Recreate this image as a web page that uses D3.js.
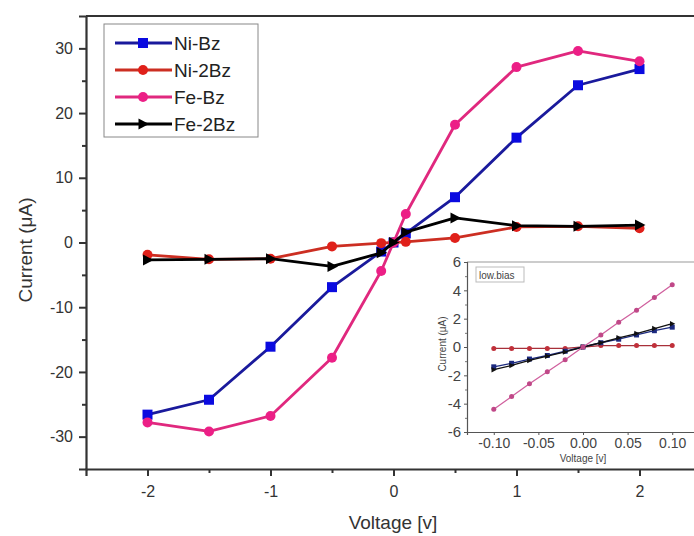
<!DOCTYPE html>
<html><head><meta charset="utf-8">
<script src="https://cdn.jsdelivr.net/npm/d3@7"></script>
<style>
html,body{margin:0;padding:0;background:#fff;}
svg{display:block;font-family:"Liberation Sans",Arial,sans-serif;}
</style></head>
<body><svg id="c" width="694" height="536"></svg>
<script>
// ---- main chart data ----
const voltage = [-2, -1.5, -1, -0.5, -0.1, 0, 0.1, 0.5, 1, 1.5, 2];
const niBz  = [-26.6, -24.3, -16.1, -6.9, -1.4, 0, 1.4, 7.0, 16.2, 24.3, 26.8];
const ni2Bz = [-1.9, -2.6, -2.5, -0.6, -0.1, 0, 0.1, 0.7, 2.4, 2.5, 2.2];
const feBz  = [-27.8, -29.2, -26.8, -17.8, -4.4, 0, 4.4, 18.2, 27.1, 29.6, 28.0];
const fe2Bz = [-2.7, -2.6, -2.5, -3.7, -1.6, 0, 1.6, 3.8, 2.6, 2.5, 2.7];
const seriesNames = ["Ni-Bz", "Ni-2Bz", "Fe-Bz", "Fe-2Bz"];
const xTicks = [-2, -1, 0, 1, 2];
const yTicks = [-30, -20, -10, 0, 10, 20, 30];

// ---- inset (low bias) data ----
const lowV = [-0.1, -0.08, -0.06, -0.04, -0.02, 0, 0.02, 0.04, 0.06, 0.08, 0.1];
const lowNiBz  = [-1.4, -1.15, -0.85, -0.6, -0.3, 0, 0.3, 0.55, 0.85, 1.15, 1.4];
const lowNi2Bz = [-0.1, -0.1, -0.1, -0.1, -0.1, 0, 0.1, 0.1, 0.1, 0.1, 0.1];
const lowFeBz  = [-4.4, -3.5, -2.6, -1.75, -0.9, 0, 0.85, 1.75, 2.6, 3.5, 4.4];
const lowFe2Bz = [-1.6, -1.3, -0.95, -0.65, -0.35, 0, 0.3, 0.65, 0.95, 1.3, 1.65];
const insetXTicks = [-0.10, -0.05, 0.00, 0.05, 0.10];
const insetYTicks = [-6, -4, -2, 0, 2, 4, 6];

const styles = [
  {line:"#1a1a9c", fill:"#0a0ae0", shape:"square"},
  {line:"#cc2e22", fill:"#e0201a", shape:"circle"},
  {line:"#e0287e", fill:"#ec1f86", shape:"circle"},
  {line:"#000000", fill:"#000000", shape:"triangle"}
];
const mainData = [niBz, ni2Bz, feBz, fe2Bz];
const lowData = [lowNiBz, lowNi2Bz, lowFeBz, lowFe2Bz];

const svg = d3.select("#c");
const x = d3.scaleLinear().domain([-2.5, 2.5]).range([86, 701]);
const y = d3.scaleLinear().domain([-35, 35]).range([469, 16]);
const hy = f => d => f(d).replace("\u2212", "-");

function marker(g, shape, cx, cy, s, fill) {
  if (shape === "square") {
    g.append("rect").attr("x", cx - s/2).attr("y", cy - s/2).attr("width", s).attr("height", s).attr("fill", fill);
  } else if (shape === "circle") {
    g.append("circle").attr("cx", cx).attr("cy", cy).attr("r", s/2).attr("fill", fill);
  } else {
    g.append("path").attr("d", `M${cx - s*0.45},${cy - s*0.55}L${cx + s*0.6},${cy}L${cx - s*0.45},${cy + s*0.55}Z`).attr("fill", fill);
  }
}

// top frame line
svg.append("line").attr("x1", 86).attr("x2", 701).attr("y1", 16).attr("y2", 16).attr("stroke", "#333").attr("stroke-width", 2);

// axes
const xAxis = d3.axisBottom(x).tickValues(xTicks).tickFormat(hy(d3.format("d"))).tickSize(7).tickPadding(10);
const gx = svg.append("g").attr("transform", "translate(0,469)").call(xAxis);
gx.select(".domain").attr("stroke", "#333").attr("stroke-width", 2.2);
gx.selectAll(".tick line").attr("stroke", "#333").attr("stroke-width", 2);
gx.selectAll("text").attr("font-size", 16).attr("fill", "#333").attr("font-family", "Liberation Sans, Arial");
svg.append("g").attr("transform", "translate(0,469)")
  .call(d3.axisBottom(x).tickValues([-1.5, -0.5, 0.5, 1.5]).tickFormat("").tickSize(4))
  .call(g => { g.select(".domain").remove(); g.selectAll("line").attr("stroke", "#333").attr("stroke-width", 2); });

const yAxis = d3.axisLeft(y).tickValues(yTicks).tickFormat(hy(d3.format("d"))).tickSize(7).tickPadding(6);
const gy = svg.append("g").attr("transform", "translate(86,0)").call(yAxis);
gy.select(".domain").attr("stroke", "#333").attr("stroke-width", 2.2);
gy.selectAll(".tick line").attr("stroke", "#333").attr("stroke-width", 2);
gy.selectAll("text").attr("font-size", 16).attr("fill", "#333").attr("font-family", "Liberation Sans, Arial");
svg.append("g").attr("transform", "translate(86,0)")
  .call(d3.axisLeft(y).tickValues([-25, -15, -5, 5, 15, 25]).tickFormat("").tickSize(4))
  .call(g => { g.select(".domain").remove(); g.selectAll("line").attr("stroke", "#333").attr("stroke-width", 2); });

// axis titles
svg.append("text").attr("x", 393).attr("y", 529).attr("text-anchor", "middle")
  .attr("font-size", 19).attr("fill", "#333").text("Voltage [v]");
svg.append("text").attr("transform", "translate(32,250) rotate(-90)").attr("text-anchor", "middle")
  .attr("font-size", 19).attr("fill", "#333").text("Current (μA)");

// series
const line = d3.line().x((d, i) => x(voltage[i])).y(d => y(d));
mainData.forEach((vals, k) => {
  const st = styles[k];
  const g = svg.append("g");
  g.append("path").datum(vals).attr("d", line).attr("fill", "none")
    .attr("stroke", st.line).attr("stroke-width", 2.8).attr("stroke-linejoin", "round");
  vals.forEach((v, i) => marker(g, st.shape, x(voltage[i]), y(v), 10, st.fill));
});

// legend
const lg = svg.append("g");
lg.append("rect").attr("x", 104).attr("y", 24).attr("width", 154).attr("height", 113)
  .attr("fill", "#fff").attr("stroke", "#888").attr("stroke-width", 1);
seriesNames.forEach((n, k) => {
  const yy = 43 + k * 27;
  const st = styles[k];
  lg.append("line").attr("x1", 115).attr("x2", 172).attr("y1", yy).attr("y2", yy)
    .attr("stroke", st.line).attr("stroke-width", 2.8);
  marker(lg, st.shape, 143, yy, 10, st.fill);
  lg.append("text").attr("x", 174).attr("y", yy + 7).attr("font-size", 19).attr("fill", "#222").text(n);
});

// ---- inset ----
const ix = d3.scaleLinear().domain([-0.13, 0.13]).range([467, 699]);
const iy = d3.scaleLinear().domain([-6, 6]).range([432, 262]);
const ins = svg.append("g");
ins.append("rect").attr("x", 467).attr("y", 262).attr("width", 232).attr("height", 170).attr("fill", "#fff");
ins.append("line").attr("x1", 467).attr("x2", 699).attr("y1", 262).attr("y2", 262).attr("stroke", "#999").attr("stroke-width", 1.2);

const igx = ins.append("g").attr("transform", "translate(0,432)")
  .call(d3.axisBottom(ix).tickValues(insetXTicks).tickFormat(hy(d3.format(".2f"))).tickSize(3).tickPadding(3));
igx.select(".domain").attr("stroke", "#555").attr("stroke-width", 1.2);
igx.selectAll(".tick line").attr("stroke", "#555");
igx.selectAll("text").attr("font-size", 14).attr("fill", "#444");

const igy = ins.append("g").attr("transform", "translate(467,0)")
  .call(d3.axisLeft(iy).tickValues(insetYTicks).tickFormat(hy(d3.format("d"))).tickSize(3).tickPadding(3));
igy.select(".domain").attr("stroke", "#555").attr("stroke-width", 1.2);
igy.selectAll(".tick line").attr("stroke", "#555");
igy.selectAll("text").attr("font-size", 15).attr("fill", "#444");
ins.append("g").attr("transform", "translate(467,0)")
  .call(d3.axisLeft(iy).tickValues([-5, -3, -1, 1, 3, 5]).tickFormat("").tickSize(2))
  .call(g => { g.select(".domain").remove(); g.selectAll("line").attr("stroke", "#777"); });

ins.append("text").attr("x", 583).attr("y", 462).attr("text-anchor", "middle")
  .attr("font-size", 10).attr("fill", "#444").text("Voltage [v]");
ins.append("text").attr("transform", "translate(446,344) rotate(-90)").attr("text-anchor", "middle")
  .attr("font-size", 10).attr("fill", "#444").text("Current (μA)");

ins.append("rect").attr("x", 476).attr("y", 267).attr("width", 48).attr("height", 15)
  .attr("fill", "#fff").attr("stroke", "#bbb").attr("stroke-width", 1);
ins.append("text").attr("x", 479).attr("y", 279).attr("font-size", 10).attr("fill", "#444").text("low.bias");

const lowStyles = [
  {line:"#1c2a80", fill:"#1c2a80", shape:"square"},
  {line:"#a8303a", fill:"#c0303a", shape:"circle"},
  {line:"#d0609e", fill:"#c04888", shape:"circle"},
  {line:"#111111", fill:"#111111", shape:"triangle"}
];
const iline = d3.line().x((d, i) => ix(lowV[i])).y(d => iy(d));
[1, 0, 3, 2].forEach(k => {
  const st = lowStyles[k];
  const g = ins.append("g");
  g.append("path").datum(lowData[k]).attr("d", iline).attr("fill", "none")
    .attr("stroke", st.line).attr("stroke-width", 1.3);
  lowData[k].forEach((v, i) => marker(g, st.shape, ix(lowV[i]), iy(v), 5, st.fill));
});
</script></body></html>
